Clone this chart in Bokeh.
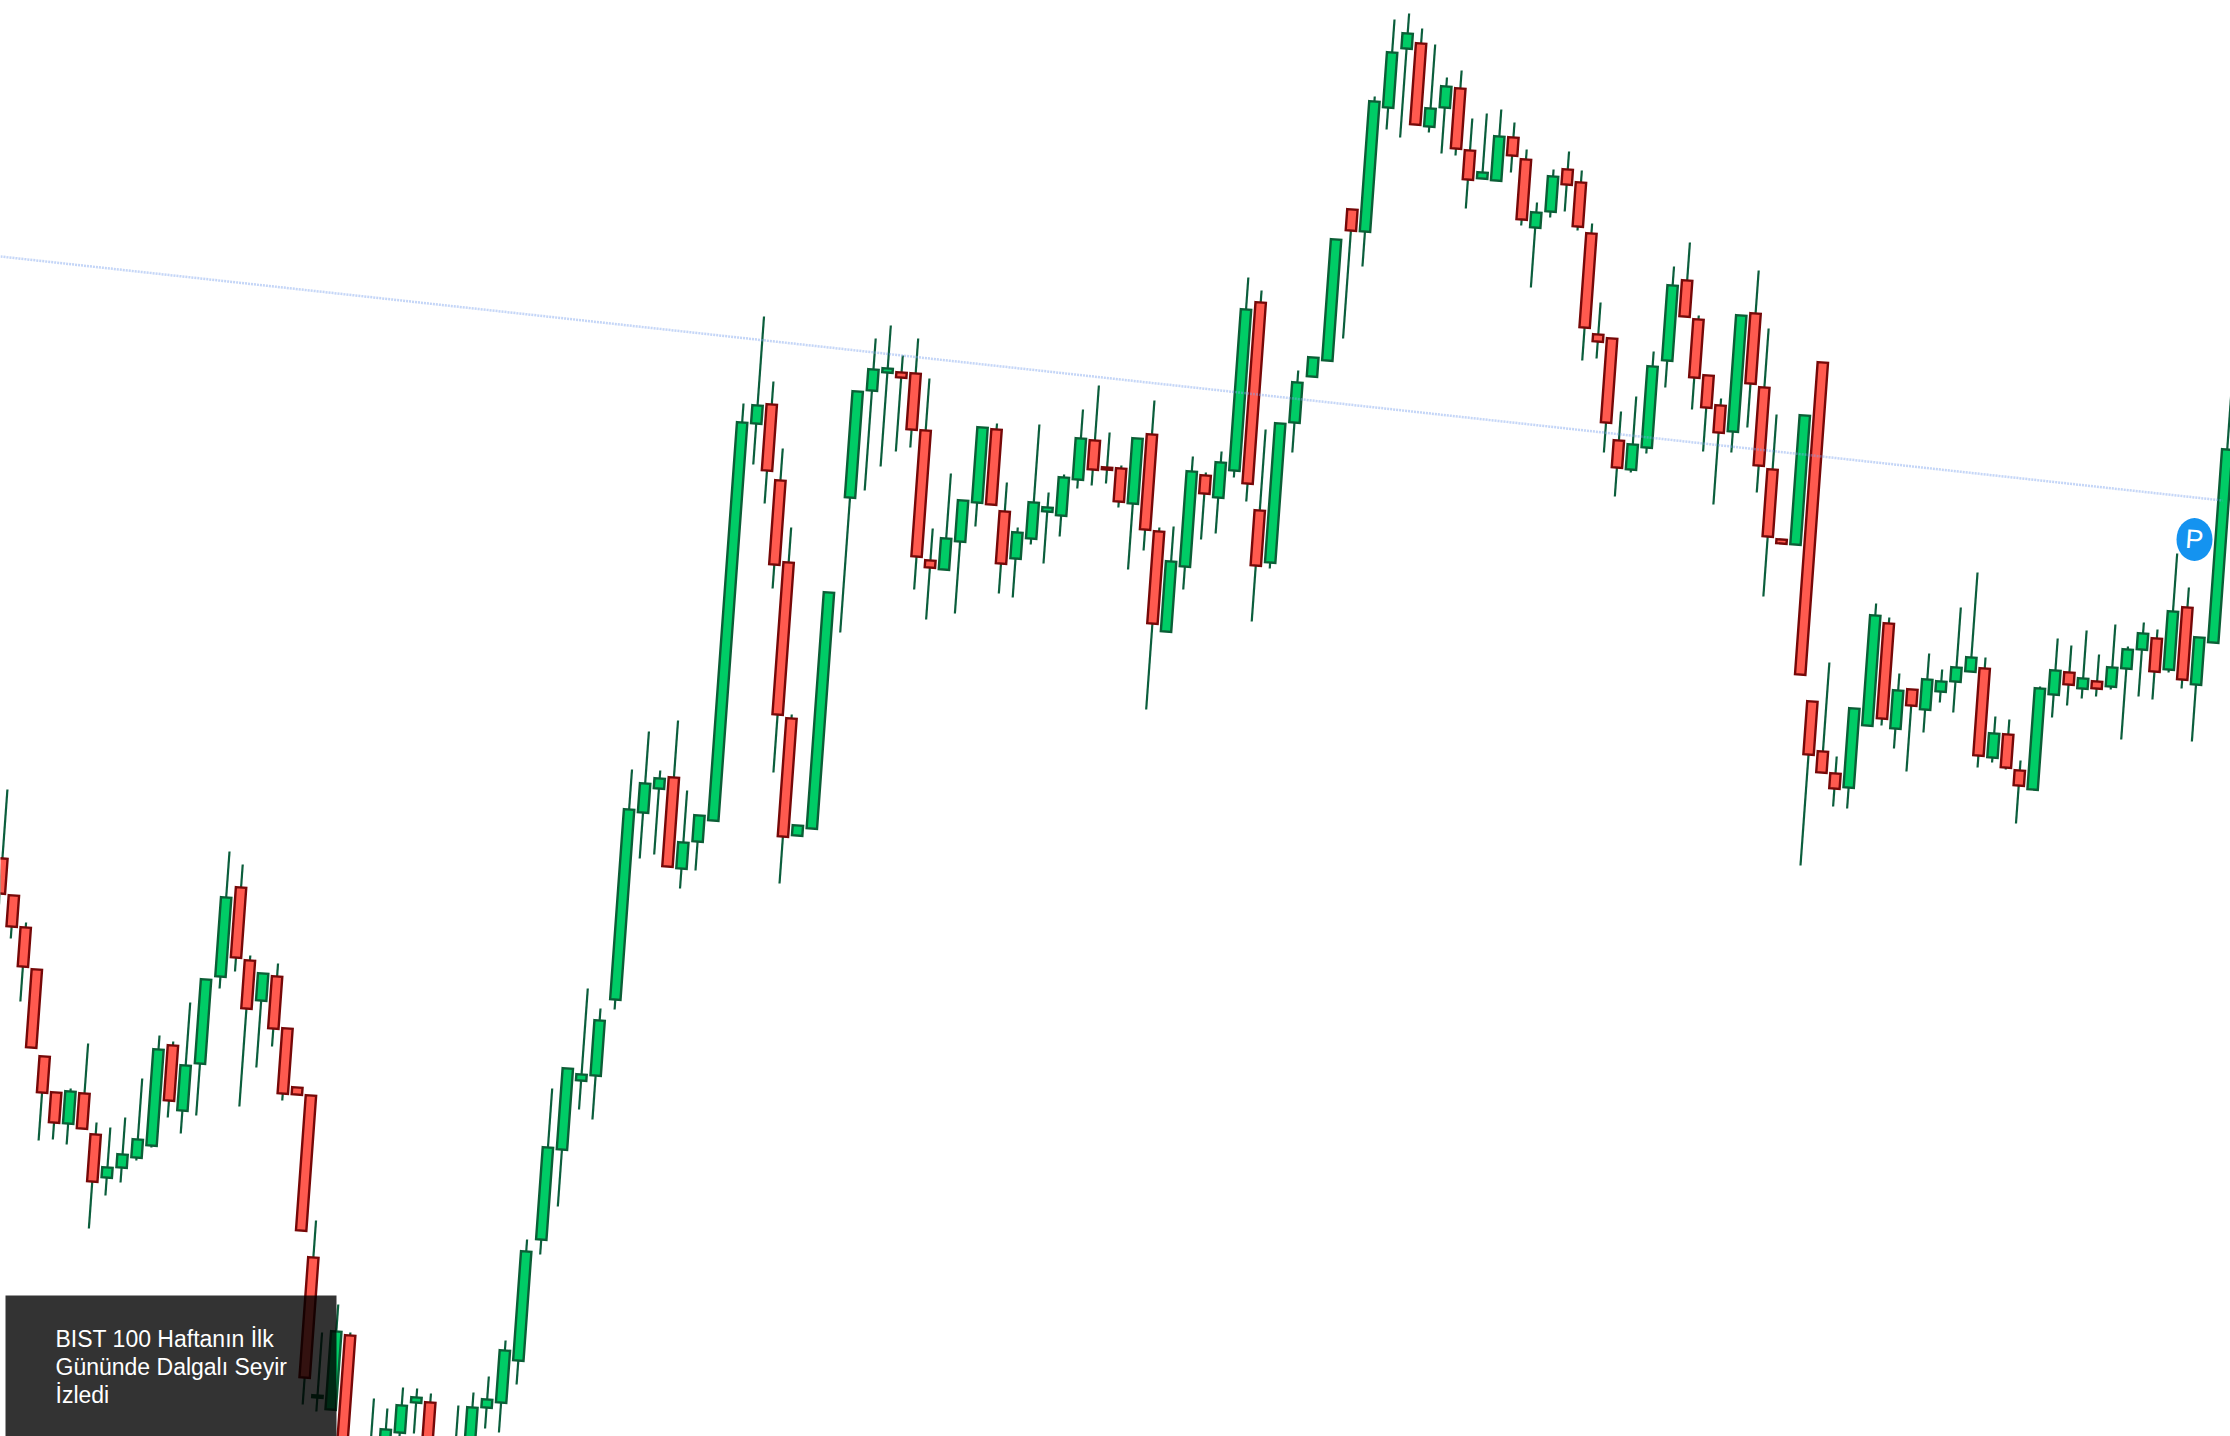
import math
from bokeh.plotting import figure
from bokeh.core.properties import value
from bokeh.models import Range1d
from bokeh.embed import file_html
from bokeh.resources import INLINE

# Candle values, on its own vertical level scale
# (larger level = lower on the chart). R = falling, G = rising.
highs = [789,895,922,969,1056,1092,1088,1043,1122,1127,1117,1078,1035,1041,1002,979,851,864,955,973,
         963,1028,1087,1095,1220,1332,1304,1332,1450,1398,1408,1387,1388,1393,1445,1405,1392,1376,1340,1239,
         1088,1068,988,1008,769,731,770,720,790,815,403,316,381,448,527,714,825,592,391,338,
         325,355,338,378,528,473,500,427,423,482,527,424,492,474,409,385,432,465,438,400,
         527,526,456,472,451,277,290,429,423,370,357,239,209,96,19,13,28,44,77,70,
         118,113,109,122,149,202,169,151,170,223,302,338,411,396,351,266,242,315,375,398,
         315,270,328,414,539,415,362,701,662,756,708,603,617,673,689,653,669,607,572,657,
         716,719,760,686,638,645,630,654,624,646,622,629,553,587,637,395]
body_tops = [858,895,927,969,1056,1092,1091,1093,1134,1167,1154,1139,1049,1045,1065,979,897,887,960,973,
             976,1028,1087,1095,1257,1395,1331,1335,1455,1450,1429,1405,1397,1402,1460,1450,1407,1399,1350,1251,
             1147,1068,1074,1020,809,783,778,777,842,815,422,405,404,480,562,718,825,592,391,369,
             368,372,373,430,560,538,500,427,429,511,532,502,507,477,438,440,467,468,438,434,
             531,561,471,475,462,309,302,510,423,382,357,239,209,101,52,33,43,108,86,88,
             150,172,136,137,159,212,176,169,182,233,334,338,440,444,366,285,280,319,375,405,
             315,313,387,469,539,415,362,701,751,773,708,615,623,690,689,679,681,667,657,668,
             733,734,770,688,670,672,678,681,667,649,633,638,611,607,637,449]
body_bottoms = [893,926,966,1047,1092,1122,1123,1128,1181,1177,1167,1157,1145,1100,1110,1063,976,957,1008,1000,
                1028,1093,1094,1230,1377,1397,1409,1480,1490,1480,1470,1432,1402,1470,1490,1480,1460,1407,1402,1360,
                1239,1149,1080,1075,999,812,788,866,868,841,820,423,470,564,714,836,835,828,497,390,
                372,377,429,556,567,569,541,502,504,563,558,538,511,515,479,469,469,501,503,529,
                623,631,566,493,497,470,483,565,562,422,376,360,230,231,107,48,124,126,107,148,
                179,178,180,155,219,227,211,184,226,327,341,422,467,469,447,360,316,377,407,432,
                431,383,465,536,543,544,674,754,772,788,787,725,718,728,705,709,691,681,671,755,
                757,767,785,789,694,684,688,688,686,668,649,671,669,679,684,642]
lows = [904,938,1001,1047,1140,1139,1144,1128,1228,1195,1182,1160,1147,1117,1133,1115,988,971,1106,1067,
        1046,1100,1094,1230,1404,1411,1409,1500,1510,1500,1490,1445,1433,1490,1510,1495,1470,1428,1432,1384,
        1254,1206,1109,1119,1009,858,854,866,888,870,820,464,503,588,772,883,835,828,632,490,
        466,451,447,589,619,569,613,526,504,593,597,544,563,536,488,485,483,507,569,550,
        709,631,589,539,533,477,501,621,568,452,376,360,338,266,129,137,124,132,153,155,
        208,178,180,172,225,287,217,211,230,360,358,452,496,472,453,387,316,409,451,504,
        452,427,492,596,543,544,674,865,772,806,808,725,725,748,771,732,702,712,671,767,
        762,769,823,789,717,705,698,696,689,739,696,699,672,688,741,642]
directions = list("RRRRRRGRRG" "GGGRGGGRRG" "RRRRRGGRGG" "GGGRRGGGGG"
                  "GGGGGGGRGG" "GGRRRRGGGG" "GRRRRGGGRR" "GGGGGRRRGR"
                  "RGGRGGRRGG" "GGRGGGRGGR" "RGGRRGGRRR" "RRRGGGRRRR"
                  "GRRRRGRRRR" "GGRGRGGGGR" "GRRGGRGRGG" "GRGRGG")

trend_x = [0, 2222]
trend_y = [256, 500]

title_lines = ["BIST 100 Haftanın İlk", "Gününde Dalgalı Seyir", "İzledi"]
badge_label = "P"

assert len(highs) == len(body_tops) == len(body_bottoms) == len(lows) == len(directions) == 156

# The whole chart sits tilted on the page: each bar's axis leans by this angle.
TILT = math.radians(4.15)
COS, SIN = math.cos(TILT), math.sin(TILT)
U0, DU = 64.0, 14.125
HALF = 5.2


def sx(n, level):
    return (U0 + n * DU - level * SIN) / COS


wick_x0, wick_y0, wick_x1, wick_y1 = [], [], [], []
body_xs, body_ys, fills, lines = [], [], [], []
for n, (h, t, b, l, d) in enumerate(zip(highs, body_tops, body_bottoms, lows, directions)):
    wick_x0.append(sx(n, h)); wick_y0.append(h)
    wick_x1.append(sx(n, l)); wick_y1.append(l)
    xt, xb = sx(n, t), sx(n, b)
    dx, dy = HALF * COS, HALF * SIN
    body_xs.append([xt - dx, xt + dx, xb + dx, xb - dx])
    body_ys.append([t - dy, t + dy, b + dy, b - dy])
    fills.append("#00cc66" if d == "G" else "#ff5a4f")
    lines.append("#0b5e36" if d == "G" else "#760808")

p = figure(width=2230, height=1436, output_backend="svg", toolbar_location=None,
           x_range=Range1d(0, 2230), y_range=Range1d(1436, 0), min_border=0,
           background_fill_color="white", border_fill_color="white", outline_line_color=None)
p.xaxis.visible = False
p.yaxis.visible = False
p.grid.visible = False

p.segment(wick_x0, wick_y0, wick_x1, wick_y1, line_color="#0b5e3c", line_width=2.2)
p.patches(xs=body_xs, ys=body_ys, fill_color=fills, line_color=lines, line_width=2.4, line_join="miter")
p.line(trend_x, trend_y, line_color="#7fa4ee", line_width=2.5, line_alpha=0.45, line_dash=[2, 1])

p.ellipse(x=[2194], y=[539], width=[36], height=[43], fill_color="#1493f0", line_color=None)
p.text(x=[2194], y=[539], text=[badge_label], text_color="white", text_font=value("Liberation Sans"),
       text_font_size="27px", text_align="center", text_baseline="middle", angle=[-TILT])

p.quad(left=[5], right=[336], top=[1295], bottom=[1436], fill_color="#000000", fill_alpha=0.8, line_color=None)
p.text(x=[55, 55, 55], y=[1338, 1366, 1394], text=title_lines, text_color="white",
       text_font=value("Liberation Sans"), text_font_size="23px", text_align="left", text_baseline="alphabetic")

open("out.html", "w").write(file_html(p, INLINE))
